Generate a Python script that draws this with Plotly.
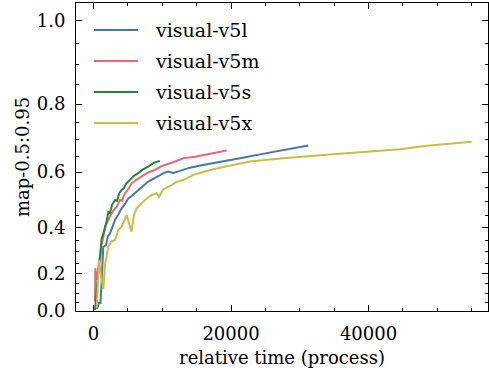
import numpy as np
import plotly.graph_objects as go

# ---- data ----
series_names = ["visual-v5l", "visual-v5m", "visual-v5s", "visual-v5x"]
series_colors = ["#4477AA", "#EE6677", "#228833", "#CCBB44"]

v5l_time = [509, 800, 1018, 1193, 1425, 1818, 2109, 2400, 2764, 3127, 3564, 4102, 4582,
            5062, 5600, 6516, 7200, 7971, 8945, 9920, 10400, 10880, 11607, 12581, 14036,
            15927, 17920, 21308, 25192, 28581, 31243]
v5l_map = [0.012, 0.046, 0.046, 0.169, 0.321, 0.330, 0.368, 0.378, 0.408, 0.431, 0.450,
           0.475, 0.491, 0.511, 0.520, 0.541, 0.554, 0.569, 0.581, 0.591, 0.599, 0.602,
           0.5975, 0.604, 0.6145, 0.623, 0.6305, 0.644, 0.660, 0.672, 0.683]

v5m_time = [218, 262, 400, 650, 945, 1164, 1425, 1818, 2400, 2836, 3374, 3855, 4145, 4582,
            5018, 5556, 6182, 7011, 7927, 8945, 9963, 11374, 13061, 14763, 15970, 17672,
            19374]
v5m_map = [0.054, 0.226, 0.170, 0.220, 0.264, 0.330, 0.365, 0.412, 0.444, 0.465, 0.481,
           0.505, 0.502, 0.529, 0.541, 0.563, 0.574, 0.585, 0.599, 0.607, 0.620, 0.630,
           0.644, 0.649, 0.654, 0.662, 0.668]

v5s_time = [218, 364, 465, 655, 800, 945, 1193, 1382, 1673, 1891, 2153, 2400, 2691, 3127,
            3418, 3709, 4102, 4436, 4727, 5062, 5454, 5891, 6516, 7200, 7971, 8800, 9672]
v5s_map = [0.006, 0.063, 0.117, 0.193, 0.255, 0.279, 0.359, 0.372, 0.405, 0.423, 0.462,
           0.458, 0.487, 0.505, 0.502, 0.527, 0.541, 0.547, 0.561, 0.569, 0.578, 0.588,
           0.597, 0.609, 0.618, 0.630, 0.636]

v5x_time = [465, 800, 1091, 1425, 1673, 2153, 2545, 3127, 3607, 4102, 4829, 5164, 5527,
            5891, 6283, 6909, 7491, 8465, 9192, 9527, 10153, 11127, 12101, 13061, 14516,
            15491, 16945, 19374, 22763, 27607, 30036, 34399, 37308, 44581, 48465, 51853,
            55010]
v5x_map = [0.018, 0.264, 0.193, 0.122, 0.241, 0.323, 0.343, 0.351, 0.392, 0.405, 0.450,
           0.423, 0.385, 0.450, 0.475, 0.491, 0.505, 0.523, 0.529, 0.516, 0.543, 0.554,
           0.568, 0.574, 0.591, 0.597, 0.607, 0.619, 0.634, 0.644, 0.649, 0.656, 0.660,
           0.672, 0.682, 0.688, 0.694]

y_tick_values = [0.0, 0.2, 0.4, 0.6, 0.8, 1.0]
y_tick_labels = ["0.0", "0.2", "0.4", "0.6", "0.8", "1.0"]
x_tick_values = [0, 20000, 40000]
x_tick_labels = ["0", "20000", "40000"]

times = [v5l_time, v5m_time, v5s_time, v5x_time]
maps = [v5l_map, v5m_map, v5s_map, v5x_map]

# The y axis of the reference uses an exponential ("function") scale: pos ~ exp(value)
fwd = np.exp

FONT = "DejaVu Serif"
fig = go.Figure()
for name, col, t, m in zip(series_names, series_colors, times, maps):
    fig.add_trace(go.Scatter(x=t, y=fwd(np.array(m)), mode="lines", name=name,
                             line=dict(color=col, width=2), showlegend=False))

# legend drawn in the upper-left corner of the axes (paper coordinates)
leg_x0, leg_x1, leg_text_x = 0.0437, 0.1505, 0.1875
leg_y_top, leg_row_step = 0.9123, 0.1006
for i, (name, col) in enumerate(zip(series_names, series_colors)):
    yy = leg_y_top - i * leg_row_step
    fig.add_shape(type="line", xref="paper", yref="paper", x0=leg_x0, x1=leg_x1,
                  y0=yy, y1=yy, line=dict(color=col, width=2))
    fig.add_annotation(xref="paper", yref="paper", x=leg_text_x, y=yy, text=name,
                       showarrow=False, xanchor="left", yanchor="middle",
                       font=dict(family=FONT, size=19, color="black"))

y_minor = [round(v, 2) for v in np.arange(0.0, 1.0001, 0.05) if round(v * 20) % 4 != 0]

axis_common = dict(showline=True, linecolor="black", linewidth=1, mirror="allticks",
                   ticks="inside", tickcolor="black", tickwidth=1, ticklen=6,
                   showgrid=False, zeroline=False,
                   tickfont=dict(family=FONT, size=18, color="black"))

fig.update_layout(
    width=489, height=372,
    margin=dict(l=76, r=1, t=3, b=61),
    paper_bgcolor="white", plot_bgcolor="white",
    font=dict(family=FONT, size=18, color="black"),
    showlegend=False,
    xaxis=dict(range=[-2545, 57382], tickvals=x_tick_values, ticktext=x_tick_labels,
               minor=dict(dtick=5000, tick0=0, ticks="inside", ticklen=3,
                          tickcolor="black", tickwidth=1),
               title=dict(text="relative time (process)", font=dict(family=FONT, size=18),
                          standoff=8),
               ticklabelstandoff=6,
               **axis_common),
    yaxis=dict(range=[fwd(0.0), fwd(1.038)], tickvals=list(fwd(np.array(y_tick_values))),
               ticktext=y_tick_labels,
               minor=dict(tickmode="array", tickvals=list(fwd(np.array(y_minor))),
                          ticks="inside", ticklen=3, tickcolor="black", tickwidth=1),
               title=dict(text="map-0.5:0.95", font=dict(family=FONT, size=18),
                          standoff=2),
               ticklabelstandoff=6,
               **axis_common),
)

fig.write_html("out.html")
